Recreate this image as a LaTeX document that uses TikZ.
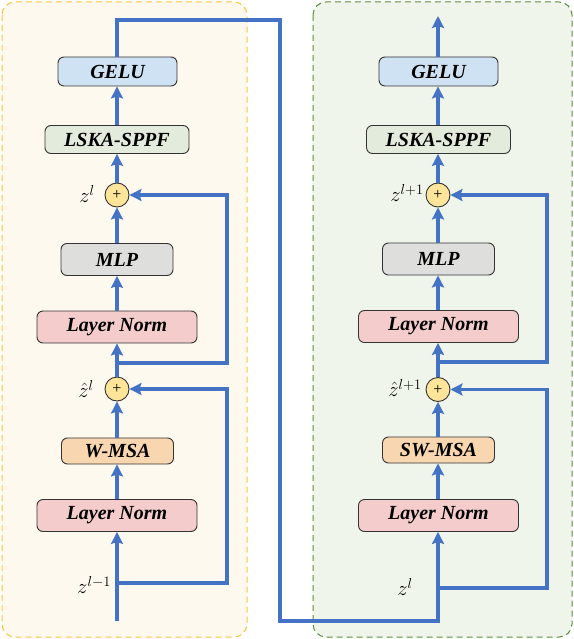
\documentclass[tikz,border=0pt]{standalone}
\usepackage{fontspec}
\setmainfont{Liberation Serif}
\usetikzlibrary{arrows.meta}
\definecolor{ablue}{HTML}{4472C4}
\definecolor{cgelu}{HTML}{CFE2F3}
\definecolor{clska}{HTML}{E2EBDC}
\definecolor{cmlp}{HTML}{DEDFDD}
\definecolor{cln}{HTML}{F4CCCC}
\definecolor{cmsa}{HTML}{F8D6B0}
\definecolor{cplus}{HTML}{FFE59A}
\definecolor{panY}{HTML}{FBC43A}
\definecolor{panYf}{HTML}{FEF9EF}
\definecolor{panG}{HTML}{5E8C3E}
\definecolor{panGf}{HTML}{F0F5EC}
\begin{document}
\begin{tikzpicture}[x=1pt,y=-1pt,
  box/.style={draw=black!80, rounded corners=6pt, line width=0.9pt, inner sep=0pt,
    font=\fontsize{20}{23}\selectfont\bfseries\itshape},
  conn/.style={draw=ablue, line width=3.4pt},
  arr/.style={conn, -{Stealth[length=12pt,width=12pt,inset=2pt]}},
  plusnode/.style={circle, draw=black!80, fill=cplus, minimum size=24pt, inner sep=0pt,
    line width=0.9pt, font=\fontsize{16}{16}\selectfont},
  lab/.style={inner sep=0pt, font=\fontsize{20}{24}\selectfont},
  panel/.style={dashed, dash pattern=on 6pt off 4pt, rounded corners=13pt, line width=1pt}]
\useasboundingbox (0,0) rectangle (573,639);
% panels
\draw[panel, draw=panY, fill=panYf] (2,2) rectangle (247,637);
\draw[panel, draw=panG, fill=panGf] (313,2) rectangle (572,637);

% left column
\node[box, fill=cgelu, minimum width=119pt, minimum height=29pt] (gelu1) at (117.5,71.5) {GELU};
\node[box, fill=clska, minimum width=144pt, minimum height=28pt] (lska1) at (117,139.5) {LSKA-SPPF};
\node[plusnode] (pa1) at (117,195) {+};
\node[box, fill=cmlp, minimum width=112pt, minimum height=32pt] (mlp1) at (117,259.5) {MLP};
\node[box, fill=cln, minimum width=160pt, minimum height=32pt] (lna1) at (117,327) {Layer Norm};
\node[plusnode] (pb1) at (117,389) {+};
\node[box, fill=cmsa, minimum width=112pt, minimum height=26pt] (msa1) at (117.5,451) {W-MSA};
\node[box, fill=cln, minimum width=160pt, minimum height=32pt] (lnb1) at (117,515.5) {Layer Norm};

% right column
\node[box, fill=cgelu, minimum width=119pt, minimum height=29pt] (gelu2) at (438.5,71.5) {GELU};
\node[box, fill=clska, minimum width=144pt, minimum height=28pt] (lska2) at (438.5,139.5) {LSKA-SPPF};
\node[plusnode] (pa2) at (438,195) {+};
\node[box, fill=cmlp, minimum width=112pt, minimum height=32pt] (mlp2) at (438.5,259) {MLP};
\node[box, fill=cln, minimum width=160pt, minimum height=32pt] (lna2) at (438.5,326.5) {Layer Norm};
\node[plusnode] (pb2) at (438,389.5) {+};
\node[box, fill=cmsa, minimum width=112pt, minimum height=26pt] (msa2) at (438.5,450) {SW-MSA};
\node[box, fill=cln, minimum width=160pt, minimum height=32pt] (lnb2) at (438.5,515.5) {Layer Norm};

% labels
\node[lab] (l1) at (87,194) {$z^{l}$};
\node[lab] (l2) at (86,389) {$\hat{z}^{l}$};
\node[lab] (l3) at (94,585) {$z^{l-1}$};
\node[lab] (l4) at (407,193) {$z^{l+1}$};
\node[lab] (l5) at (405,388) {$\hat{z}^{l+1}$};
\node[lab] (l6) at (405,587) {$z^{l}$};

% coordinates
\coordinate (in1) at (117,621);
\coordinate (b1) at (117,583);
\coordinate (b1r) at (227,583);
\coordinate (b2) at (117,363);
\coordinate (b2r) at (227,363);
\coordinate (t1) at (280,20);
\coordinate (bt) at (280,621);
\coordinate (c1) at (438,588);
\coordinate (c1r) at (547,588);
\coordinate (c2) at (438,362);
\coordinate (c2r) at (547,362);
\coordinate (out2) at (438,16);

% left connectors
\draw[arr] (in1) -- (lnb1.south -| in1);
\draw[arr] (lnb1.north -| in1) -- (msa1.south -| in1);
\draw[arr] (msa1.north -| pb1.south) -- (pb1.south);
\draw[arr] (b1) -- (b1r) |- (pb1.east);
\draw[arr] (pb1.north) -- (lna1.south -| pb1.north);
\draw[arr] (b2) -- (b2r) |- (pa1.east);
\draw[arr] (lna1.north -| pb1.north) -- (mlp1.south -| pb1.north);
\draw[arr] (mlp1.north -| pa1.south) -- (pa1.south);
\draw[arr] (pa1.north) -- (lska1.south -| pa1.north);
\draw[arr] (lska1.north -| pa1.north) -- (gelu1.south -| pa1.north);
\draw[arr] (gelu1.north -| pa1.north) |- (t1) -- (bt) -| (lnb2.south -| pa2.south);

% right connectors
\draw[arr] (lnb2.north -| pb2.south) -- (msa2.south -| pb2.south);
\draw[arr] (msa2.north -| pb2.south) -- (pb2.south);
\draw[arr] (c1) -- (c1r) |- (pb2.east);
\draw[arr] (pb2.north) -- (lna2.south -| pb2.north);
\draw[arr] (c2) -- (c2r) |- (pa2.east);
\draw[arr] (lna2.north -| pa2.south) -- (mlp2.south -| pa2.south);
\draw[arr] (mlp2.north -| pa2.south) -- (pa2.south);
\draw[arr] (pa2.north) -- (lska2.south -| pa2.north);
\draw[arr] (lska2.north -| pa2.north) -- (gelu2.south -| pa2.north);
\draw[arr] (gelu2.north -| pa2.north) -- (out2);
\end{tikzpicture}
\end{document}
